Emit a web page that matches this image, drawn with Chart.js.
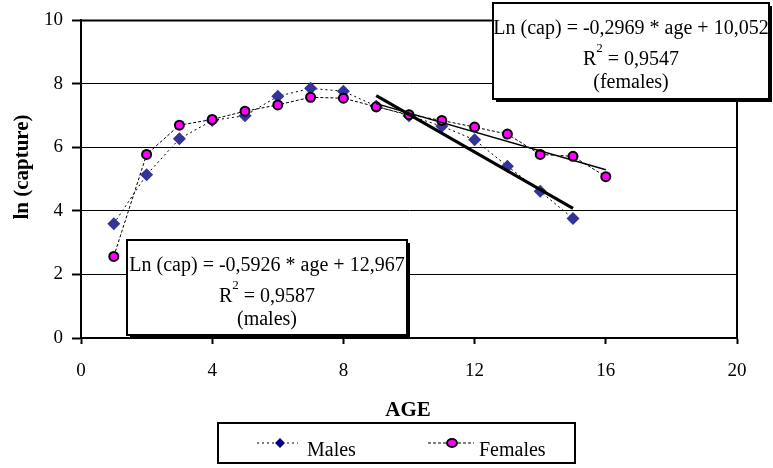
<!DOCTYPE html>
<html>
<head>
<meta charset="utf-8">
<script src="https://cdn.jsdelivr.net/npm/chart.js@4/dist/chart.umd.min.js"></script>
<style>
  html, body { margin: 0; padding: 0; background: #ffffff; }
  #wrap { width: 773px; height: 468px; position: relative; }
</style>
</head>
<body>
<div id="wrap"><canvas id="c" width="773" height="468"></canvas></div>
<script>
// ---- data ----
const maleAges = [1, 2, 3, 4, 5, 6, 7, 8, 9, 10, 11, 12, 13, 14, 15];
const maleLnCapture = [3.6, 5.14, 6.27, 6.85, 7.0, 7.61, 7.86, 7.77, 7.3, 7.0, 6.67, 6.24, 5.41, 4.62, 3.76];
const femaleAges = [1, 2, 3, 4, 5, 6, 7, 8, 9, 10, 11, 12, 13, 14, 15, 16];
const femaleLnCapture = [2.57, 5.78, 6.7, 6.88, 7.14, 7.34, 7.58, 7.55, 7.28, 7.03, 6.85, 6.64, 6.42, 5.78, 5.72, 5.08];
// regression lines (endpoints as drawn)
const maleTrendAges = [9, 15];
const maleTrendValues = [7.63, 4.08];
const femaleTrendAges = [9, 16];
const femaleTrendValues = [7.38, 5.30];
// axis ticks
const xTicks = [0, 4, 8, 12, 16, 20];
const yTicks = [0, 2, 4, 6, 8, 10];
// texts
const xTitle = 'AGE';
const yTitle = 'ln (capture)';
const seriesNames = ['Males', 'Females'];
const femaleBox = ['Ln (cap) = -0,2969 * age + 10,052', '0,9547', '(females)'];
const maleBox = ['Ln (cap) = -0,5926 * age + 12,967', '0,9587', '(males)'];

const FONT = "'Liberation Serif', 'Times New Roman', serif";
const pts = (xs, ys) => xs.map((x, i) => ({ x: x, y: ys[i] }));

const overlay = {
  id: 'overlay',
  afterDraw(chart) {
    const ctx = chart.ctx;
    const a = chart.chartArea;
    ctx.save();
    // frame (top and right)
    ctx.strokeStyle = '#000';
    ctx.lineWidth = 2;
    ctx.beginPath();
    ctx.moveTo(a.left, a.top);
    ctx.lineTo(a.right, a.top);
    ctx.lineTo(a.right, a.bottom);
    ctx.stroke();

    // axis titles
    ctx.fillStyle = '#000';
    ctx.font = 'bold 21px ' + FONT;
    ctx.textAlign = 'center';
    ctx.textBaseline = 'alphabetic';
    ctx.fillText(xTitle, 408, 416);
    ctx.save();
    ctx.translate(28, 167);
    ctx.rotate(-Math.PI / 2);
    ctx.fillText(yTitle, 0, 0);
    ctx.restore();

    // equation boxes
    function box(x1, y1, x2, y2, lines) {
      ctx.fillStyle = '#000';
      ctx.fillRect(x1 + 3, y1 + 3, x2 - x1, y2 - y1);
      ctx.fillStyle = '#fff';
      ctx.fillRect(x1, y1, x2 - x1, y2 - y1);
      ctx.strokeStyle = '#000';
      ctx.lineWidth = 2;
      ctx.strokeRect(x1, y1, x2 - x1, y2 - y1);
      const cx = (x1 + x2) / 2;
      ctx.fillStyle = '#000';
      ctx.textBaseline = 'alphabetic';
      ctx.font = '20px ' + FONT;
      ctx.textAlign = 'center';
      ctx.fillText(lines[0], cx, y1 + 31);
      // R^2 line
      const big = '20px ' + FONT, small = '13px ' + FONT;
      ctx.font = big;
      const wR = ctx.measureText('R').width;
      const rest = ' = ' + lines[1];
      const wRest = ctx.measureText(rest).width;
      ctx.font = small;
      const w2 = ctx.measureText('2').width;
      const total = wR + w2 + wRest;
      let x = cx - total / 2;
      ctx.textAlign = 'left';
      ctx.font = big;
      ctx.fillText('R', x, y1 + 62);
      x += wR;
      ctx.font = small;
      ctx.fillText('2', x, y1 + 49);
      x += w2;
      ctx.font = big;
      ctx.fillText(rest, x, y1 + 62);
      ctx.textAlign = 'center';
      ctx.fillText(lines[2], cx, y1 + 85);
    }
    box(493, 3, 769, 99, femaleBox);
    box(127, 240, 407, 335, maleBox);

    // legend
    ctx.fillStyle = '#fff';
    ctx.fillRect(218, 423, 357, 40);
    ctx.strokeStyle = '#000';
    ctx.lineWidth = 2;
    ctx.strokeRect(218, 423, 357, 40);
    const ly = 443;
    ctx.lineWidth = 1;
    ctx.setLineDash([2, 3]);
    ctx.beginPath(); ctx.moveTo(257, ly); ctx.lineTo(298, ly); ctx.stroke();
    ctx.setLineDash([3, 2]);
    ctx.beginPath(); ctx.moveTo(428, ly); ctx.lineTo(474, ly); ctx.stroke();
    ctx.setLineDash([]);
    // diamond
    ctx.fillStyle = '#000080';
    ctx.beginPath();
    ctx.moveTo(280, ly - 5); ctx.lineTo(285, ly); ctx.lineTo(280, ly + 5); ctx.lineTo(275, ly);
    ctx.closePath(); ctx.fill();
    // ellipse
    ctx.fillStyle = '#ff00ff';
    ctx.strokeStyle = '#000';
    ctx.lineWidth = 2;
    ctx.beginPath();
    ctx.ellipse(452, ly, 5, 4, 0, 0, Math.PI * 2);
    ctx.fill(); ctx.stroke();
    ctx.fillStyle = '#000';
    ctx.font = '20px ' + FONT;
    ctx.textAlign = 'left';
    ctx.fillText(seriesNames[0], 307, 456);
    ctx.fillText(seriesNames[1], 479, 456);
    ctx.restore();
  }
};

new Chart(document.getElementById('c'), {
  type: 'scatter',
  data: {
    datasets: [
      {
        label: 'Males trend', data: pts(maleTrendAges, maleTrendValues),
        showLine: true, borderColor: '#000', borderWidth: 3, pointRadius: 0, order: 0
      },
      {
        label: 'Females trend', data: pts(femaleTrendAges, femaleTrendValues),
        showLine: true, borderColor: '#000', borderWidth: 1.5, pointRadius: 0, order: 0
      },
      {
        label: seriesNames[0], data: pts(maleAges, maleLnCapture),
        showLine: true, borderColor: '#000', borderWidth: 1, borderDash: [2, 3],
        pointStyle: 'rectRot', pointRadius: 6.5, pointBackgroundColor: '#333399',
        pointBorderColor: '#333399', pointBorderWidth: 0, order: 2
      },
      {
        label: seriesNames[1], data: pts(femaleAges, femaleLnCapture),
        showLine: true, borderColor: '#000', borderWidth: 1, borderDash: [3, 2],
        pointStyle: 'circle', pointRadius: 4.5, pointBackgroundColor: '#ff00ff',
        pointBorderColor: '#000', pointBorderWidth: 2, order: 1
      }
    ]
  },
  options: {
    responsive: false,
    animation: false,
    events: [],
    layout: { padding: { left: 0, top: 10, right: 36, bottom: 0 } },
    plugins: { legend: { display: false }, tooltip: { enabled: false }, title: { display: false } },
    scales: {
      x: {
        type: 'linear', min: 0, max: 20,
        afterFit(s) { s.height = 130; },
        afterBuildTicks(s) { s.ticks = xTicks.map(v => ({ value: v })); },
        ticks: { color: '#000', font: { family: FONT, size: 19 }, padding: 16, maxRotation: 0 },
        grid: { drawOnChartArea: false, drawTicks: true, tickLength: 6, tickWidth: 2, tickColor: '#000' },
        border: { display: true, color: '#000', width: 2 }
      },
      y: {
        type: 'linear', min: 0, max: 10,
        afterFit(s) { s.width = 81; },
        afterBuildTicks(s) { s.ticks = yTicks.map(v => ({ value: v })); },
        ticks: { color: '#000', font: { family: FONT, size: 19 }, padding: 9 },
        grid: { color: '#000', lineWidth: 1, drawTicks: true, tickLength: 9, tickWidth: 2, tickColor: '#000' },
        border: { display: true, color: '#000', width: 2 }
      }
    }
  },
  plugins: [overlay]
});
</script>
</body>
</html>
